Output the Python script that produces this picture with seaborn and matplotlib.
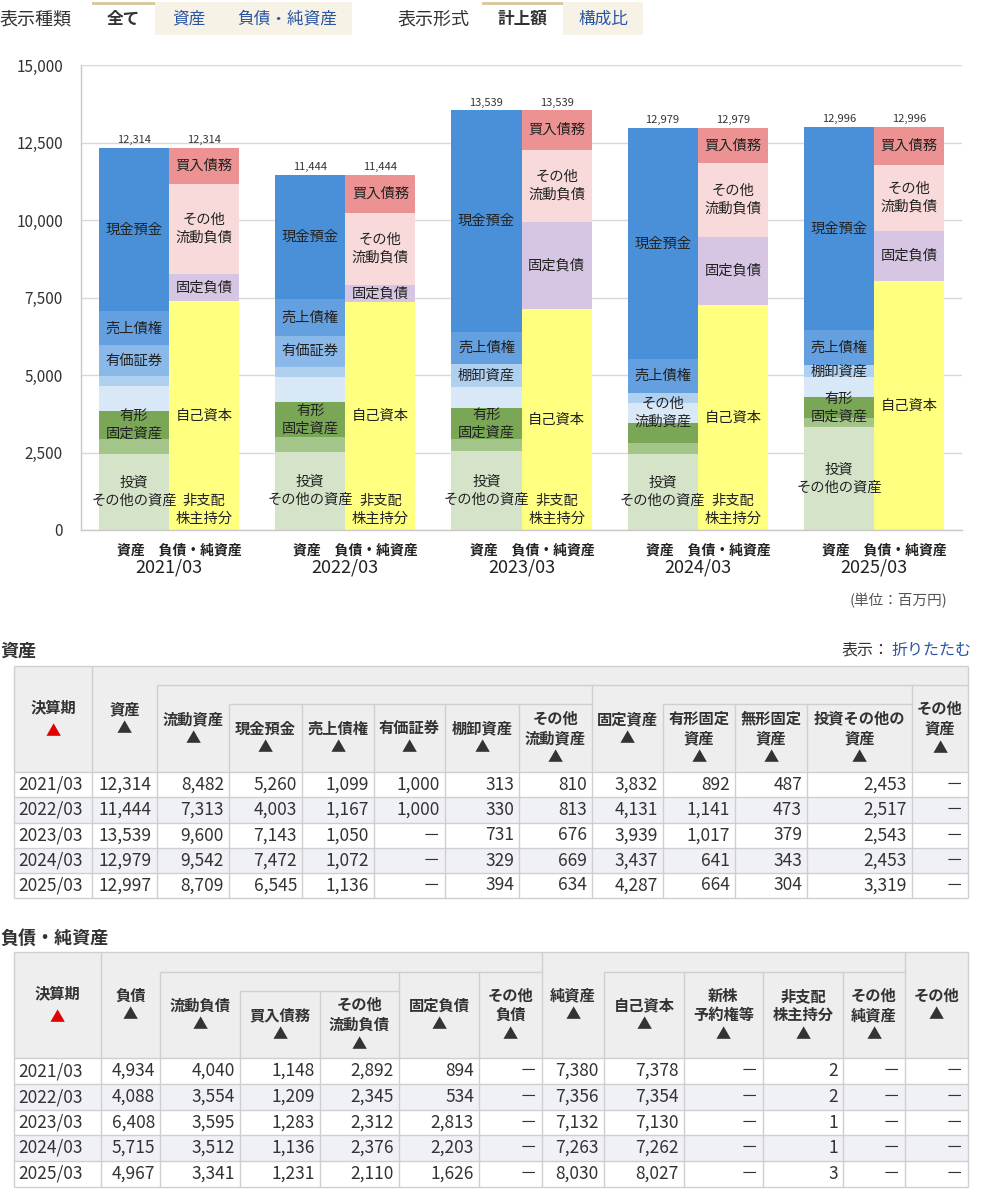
import matplotlib
matplotlib.use("Agg")
import matplotlib.pyplot as plt
import matplotlib.transforms as mtransforms
from matplotlib.patches import Rectangle
import seaborn as sns
import numpy as np
import pandas as pd

# %% data (百万円)
years = ["2021/03", "2022/03", "2023/03", "2024/03", "2025/03"]

# assets
total_assets = [12314, 11444, 13539, 12979, 12997]
current_assets = [8482, 7313, 9600, 9542, 8709]
cash = [5260, 4003, 7143, 7472, 6545]
receivables = [1099, 1167, 1050, 1072, 1136]
securities = [1000, 1000, None, None, None]
inventory = [313, 330, 731, 329, 394]
other_current = [810, 813, 676, 669, 634]
fixed_assets = [3832, 4131, 3939, 3437, 4287]
tangible = [892, 1141, 1017, 641, 664]
intangible = [487, 473, 379, 343, 304]
investments = [2453, 2517, 2543, 2453, 3319]
other_assets = [None, None, None, None, None]

# liabilities / net assets
total_liab = [4934, 4088, 6408, 5715, 4967]
current_liab = [4040, 3554, 3595, 3512, 3341]
payables = [1148, 1209, 1283, 1136, 1231]
other_current_liab = [2892, 2345, 2312, 2376, 2110]
fixed_liab = [894, 534, 2813, 2203, 1626]
other_liab = [None, None, None, None, None]
net_assets = [7380, 7356, 7132, 7263, 8030]
equity = [7378, 7354, 7130, 7262, 8027]
stock_rights = [None, None, None, None, None]
minority = [2, 2, 1, 1, 3]
other_net = [None, None, None, None, None]
other_misc = [None, None, None, None, None]

# totals printed above the bars
chart_totals = [12314, 11444, 13539, 12979, 12996]

# which segment labels the chart shows
show_asset = {
    "investments": [1, 1, 1, 1, 1], "intangible": [0, 0, 0, 0, 0],
    "tangible": [1, 1, 1, 0, 1], "other_current": [0, 0, 0, 1, 0],
    "inventory": [0, 0, 1, 0, 1], "securities": [1, 1, 0, 0, 0],
    "receivables": [1, 1, 1, 1, 1], "cash": [1, 1, 1, 1, 1],
}
show_liab = {
    "minority": [1, 1, 1, 1, 0], "equity": [1, 1, 1, 1, 1],
    "fixed_liab": [1, 1, 1, 1, 1], "other_current_liab": [1, 1, 1, 1, 1],
    "payables": [1, 1, 1, 1, 1],
}

# %% style
sns.set_theme(style="white")
plt.rcParams["font.family"] = ["Noto Sans CJK JP", "DejaVu Sans"]
TXT = "#333333"
LBL = "#222222"
BLUE = "#2a55a5"
BORDER = "#cfcfcf"

fig = plt.figure(figsize=(10.01, 12), dpi=100)
ov = fig.add_axes([0, 0, 1, 1])
ov.set_xlim(0, 1001)
ov.set_ylim(1200, 0)
ov.axis("off")

# %% tabs on top
ov.text(0, 19, "表示種類", fontsize=13, color=TXT, va="center")
ov.text(397, 19, "表示形式", fontsize=13, color=TXT, va="center")
tabs = [("全て", 92, 155, True), ("資産", 155, 222, False), ("負債・純資産", 222, 352, False),
        ("計上額", 482, 563, True), ("構成比", 563, 643, False)]
for label, x0, x1, sel in tabs:
    ov.add_patch(Rectangle((x0, 2), x1 - x0, 33, facecolor="white" if sel else "#f7f2e6",
                           edgecolor="none"))
    if sel:
        ov.add_patch(Rectangle((x0, 2), x1 - x0, 3, facecolor="#d9c9a2", edgecolor="none"))
    ov.text((x0 + x1) / 2, 19, label, fontsize=12, ha="center", va="center",
            color=TXT if sel else BLUE, fontweight="bold" if sel else "normal")

# %% chart
ax = fig.add_axes([81 / 1001, 1 - 530 / 1200, 881 / 1001, 465 / 1200])
ax.set_facecolor("none")
sides = ["資産", "負債・純資産"]
bar_w = 0.796

def arr(v):
    return np.array([0 if x is None else x for x in v], dtype=float)

asset_segments = [
    ("investments", "投資\nその他の資産", investments, "#d5e3c9"),
    ("intangible", "無形\n固定資産", intangible, "#a4c58a"),
    ("tangible", "有形\n固定資産", tangible, "#79a755"),
    ("other_current", "その他\n流動資産", other_current, "#d8e8f7"),
    ("inventory", "棚卸資産", inventory, "#b0d0f0"),
    ("securities", "有価証券", securities, "#8ab8e9"),
    ("receivables", "売上債権", receivables, "#649fe0"),
    ("cash", "現金預金", cash, "#4a90d9"),
]
liab_segments = [
    ("minority", "非支配\n株主持分", minority, "#ffff80"),
    ("equity", "自己資本", equity, "#ffff80"),
    ("fixed_liab", "固定負債", fixed_liab, "#d6c6e3"),
    ("other_current_liab", "その他\n流動負債", other_current_liab, "#f9dada"),
    ("payables", "買入債務", payables, "#ec9292"),
]

def draw_side(side, segments, shift, shows):
    vals = np.array([arr(s[2]) for s in segments])
    tops = np.cumsum(vals, axis=0)
    # paint the tallest stack first, smaller ones on top of it
    for k in reversed(range(len(segments))):
        df = pd.DataFrame({"year": years, "top": tops[k], "side": side})
        sns.barplot(data=df, x="year", y="top", hue="side", hue_order=sides, order=years,
                    palette={s: segments[k][3] for s in sides}, width=bar_w, dodge=True,
                    saturation=1, errorbar=None, legend=False, linewidth=0, ax=ax)
    for k, (key, label, _, _) in enumerate(segments):
        for i in range(len(years)):
            if not shows[key][i]:
                continue
            if key == "minority":
                ax.annotate(label, (i + shift, 0), xytext=(0, 3), textcoords="offset points",
                            ha="center", va="bottom", fontsize=10.3, color=LBL,
                            linespacing=1.35, zorder=5)
            else:
                mid = tops[k][i] - vals[k][i] / 2
                ax.text(i + shift, mid, label, ha="center", va="center", fontsize=10.3,
                        color=LBL, linespacing=1.35, zorder=5)

draw_side("資産", asset_segments, -bar_w / 4, show_asset)
draw_side("負債・純資産", liab_segments, bar_w / 4, show_liab)

for i, t in enumerate(chart_totals):
    for shift in (-bar_w / 4, bar_w / 4):
        ax.annotate(f"{t:,}", (i + shift, t), xytext=(0, 2), textcoords="offset points",
                    ha="center", va="bottom", fontsize=8, color=TXT)

ax.set_xlim(-0.5, 4.5)
ax.set_ylim(0, 15000)
ax.set_yticks(np.arange(0, 15001, 2500))
ax.yaxis.set_major_formatter(plt.FuncFormatter(lambda v, p: f"{v:,.0f}"))
ax.yaxis.grid(True, color="#d8d8d8", lw=1)
ax.set_axisbelow(True)
ax.set_xlabel("")
ax.set_ylabel("")
ax.set_xticks(range(len(years)))
ax.set_xticklabels([])
ax.set_xticks(np.arange(-0.5, 5, 1), minor=True)
ax.tick_params(axis="x", which="major", length=0)
ax.tick_params(axis="x", which="minor", length=7, color="#c8c8c8", width=1, direction="out")
ax.tick_params(axis="y", length=5, color="#c8c8c8", width=1, direction="out",
               labelsize=11, labelcolor=TXT, pad=8)
for sp in ["top", "right"]:
    ax.spines[sp].set_visible(False)
for sp in ["left", "bottom"]:
    ax.spines[sp].set_color("#c8c8c8")
    ax.spines[sp].set_linewidth(1)

trans = mtransforms.blended_transform_factory(ax.transData, ax.transAxes)
for i, y in enumerate(years):
    ax.text(i + 0.06, -0.043, "資産　負債・純資産", transform=trans, ha="center", va="center",
            fontsize=10, fontweight="bold", color=LBL)
    ax.text(i, -0.081, y, transform=trans, ha="center", va="center", fontsize=13, color=LBL)

ov.text(947, 601, "(単位：百万円)", fontsize=10.5, color="#555555", ha="right", va="center")

# %% tables
def fmt(v):
    return "－" if v is None else f"{v:,}"

def line(x0, x1, y0, y1):
    ov.plot([x0, x1], [y0, y1], color=BORDER, lw=1, solid_capstyle="butt")

def header_text(x0, x1, y0, y1, s):
    ov.text((x0 + x1) / 2, (y0 + y1) / 2, s, ha="center", va="center", fontsize=11,
            fontweight="bold", color=TXT, linespacing=1.25)

def draw_table(top, hdr_bottom, row_edges, col_edges, columns, cells, vlines, hlines):
    left, right = col_edges[0], col_edges[-1]
    ov.add_patch(Rectangle((left, top), right - left, hdr_bottom - top, facecolor="#eeeeee",
                           edgecolor="none"))
    for r in range(len(years)):
        fc = "#f0f0f7" if r % 2 else "white"
        ov.add_patch(Rectangle((left, row_edges[r]), right - left,
                               row_edges[r + 1] - row_edges[r], facecolor=fc, edgecolor="none"))
    for (x0, x1, y0, y1, s) in cells:
        header_text(x0, x1, y0, y1, s)
    # 決算期 with red marker
    cy = (top + hdr_bottom) / 2
    cx = (col_edges[0] + col_edges[1]) / 2
    ov.text(cx, cy - 12, "決算期", ha="center", va="center", fontsize=11,
            fontweight="bold", color=TXT)
    ov.text(cx, cy + 13, "▲", ha="center", va="center", fontsize=11, color="#e00000")
    for r, yr in enumerate(years):
        yc = (row_edges[r] + row_edges[r + 1]) / 2
        ov.text(col_edges[0] + 4, yc, yr, ha="left", va="center", fontsize=12.5, color=TXT)
        for c, col in enumerate(columns):
            ov.text(col_edges[c + 2] - 5, yc, fmt(col[r]), ha="right", va="center",
                    fontsize=12.5, color=TXT)
    for x, y0 in vlines:
        line(x, x, y0, row_edges[-1])
    for x0, x1, y in hlines:
        line(x0, x1, y, y)
    for y in row_edges:
        line(left, right, y, y)
    line(left, right, top, top)
    line(left, left, top, row_edges[-1])
    line(right, right, top, row_edges[-1])

ov.text(0, 651, "資産", fontsize=13, fontweight="bold", color=TXT, va="center")
ov.text(972, 650, "折りたたむ", fontsize=11.5, color=BLUE, ha="right", va="center")
ov.text(972 - 82, 650, "表示：", fontsize=11.5, color=TXT, ha="right", va="center")

c1 = [14, 92, 157, 229, 302, 374, 445, 519, 592, 663, 735, 807, 912, 968]
draw_table(
    666, 772, [772, 797, 823, 848, 873, 898], c1,
    [total_assets, current_assets, cash, receivables, securities, inventory, other_current,
     fixed_assets, tangible, intangible, investments, other_assets],
    [(92, 157, 666, 772, "資産\n▲"), (157, 229, 685, 772, "流動資産\n▲"),
     (229, 302, 704, 772, "現金預金\n▲"), (302, 374, 704, 772, "売上債権\n▲"),
     (374, 445, 704, 772, "有価証券\n▲"), (445, 519, 704, 772, "棚卸資産\n▲"),
     (519, 592, 704, 772, "その他\n流動資産\n▲"), (592, 663, 685, 772, "固定資産\n▲"),
     (663, 735, 704, 772, "有形固定\n資産\n▲"), (735, 807, 704, 772, "無形固定\n資産\n▲"),
     (807, 912, 704, 772, "投資その他の\n資産\n▲"), (912, 968, 685, 772, "その他\n資産\n▲")],
    [(92, 666), (157, 685), (229, 704), (302, 704), (374, 704), (445, 704), (519, 704),
     (592, 685), (663, 704), (735, 704), (807, 704), (912, 685)],
    [(157, 968, 685), (229, 592, 704), (663, 912, 704)],
)

ov.text(0, 938, "負債・純資産", fontsize=13, fontweight="bold", color=TXT, va="center")
c2 = [14, 101, 160, 240, 320, 399, 479, 542, 604, 684, 763, 843, 905, 968]
draw_table(
    952, 1058, [1058, 1084, 1110, 1135, 1161, 1187], c2,
    [total_liab, current_liab, payables, other_current_liab, fixed_liab, other_liab,
     net_assets, equity, stock_rights, minority, other_net, other_misc],
    [(101, 160, 952, 1058, "負債\n▲"), (160, 240, 972, 1058, "流動負債\n▲"),
     (240, 320, 991, 1058, "買入債務\n▲"), (320, 399, 991, 1058, "その他\n流動負債\n▲"),
     (399, 479, 972, 1058, "固定負債\n▲"), (479, 542, 972, 1058, "その他\n負債\n▲"),
     (542, 604, 952, 1058, "純資産\n▲"), (604, 684, 972, 1058, "自己資本\n▲"),
     (684, 763, 972, 1058, "新株\n予約権等\n▲"), (763, 843, 972, 1058, "非支配\n株主持分\n▲"),
     (843, 905, 972, 1058, "その他\n純資産\n▲"), (905, 968, 952, 1058, "その他\n▲")],
    [(101, 952), (160, 972), (240, 991), (320, 991), (399, 972), (479, 972), (542, 952),
     (604, 972), (684, 972), (763, 972), (843, 972), (905, 952)],
    [(160, 542, 972), (604, 905, 972), (240, 399, 991)],
)

fig.savefig("out.png", dpi=100)
